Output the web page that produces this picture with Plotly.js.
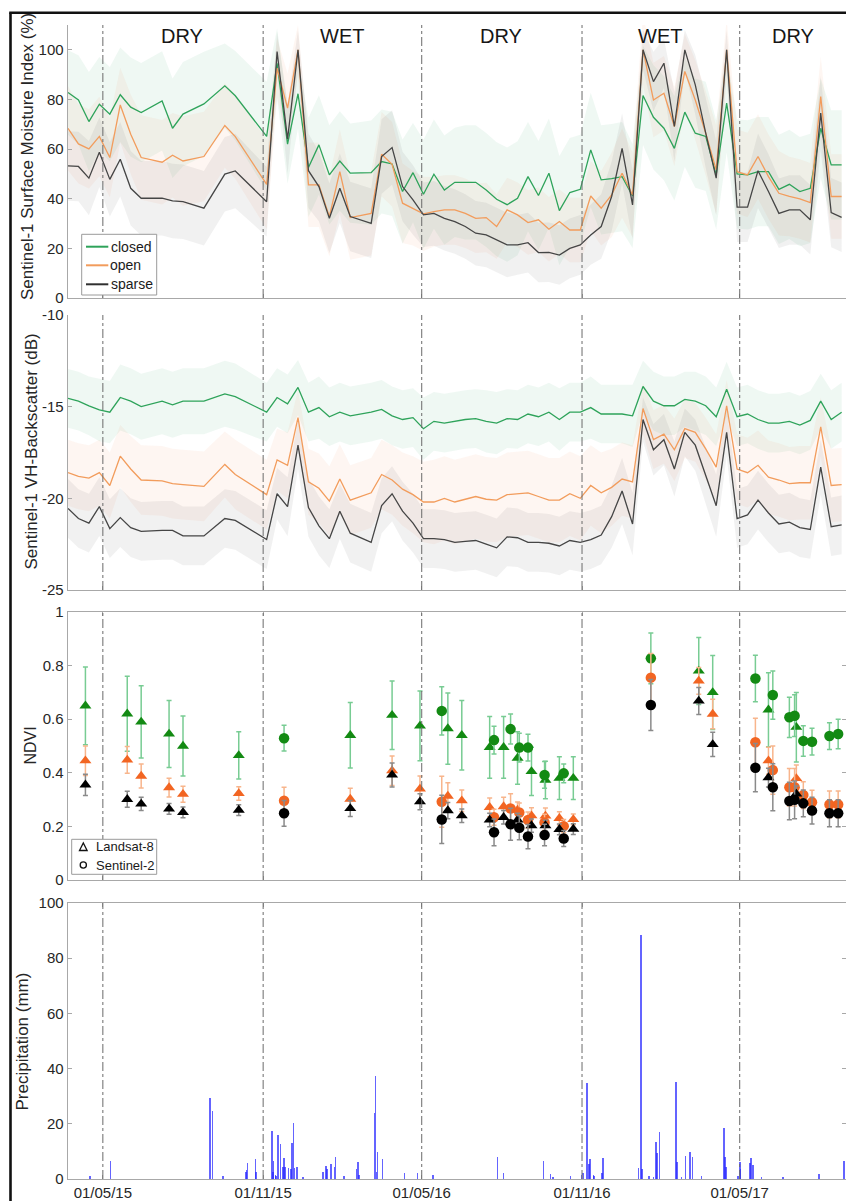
<!DOCTYPE html>
<html>
<head>
<meta charset="utf-8">
<script src="https://cdn.plot.ly/plotly-3.0.1.min.js"></script>
<style>
  html, body { margin: 0; padding: 0; background: #ffffff; overflow: hidden; }
  #chart { width: 846px; height: 1201px; }
</style>
</head>
<body>
<div id="chart"></div>
<script>
// ---------------- Sentinel-1 acquisition dates ----------------
const s1Dates = [
  '2015-03-22','2015-04-03','2015-04-15','2015-04-27','2015-05-09','2015-05-21','2015-06-02','2015-06-14',
  '2015-07-08','2015-07-20','2015-08-01','2015-08-25','2015-09-18','2015-09-30','2015-11-05','2015-11-17',
  '2015-11-29','2015-12-11','2015-12-23',
  '2016-01-04','2016-01-16','2016-01-28','2016-02-09','2016-03-04','2016-03-16','2016-03-28','2016-04-09',
  '2016-04-21','2016-05-03','2016-05-15','2016-05-27','2016-06-08','2016-06-20','2016-07-02','2016-07-14',
  '2016-07-26','2016-08-07','2016-08-19','2016-08-31','2016-09-12','2016-09-24','2016-10-06','2016-10-18',
  '2016-10-30','2016-11-11','2016-11-23','2016-12-05','2016-12-17','2016-12-29',
  '2017-01-10','2017-01-22','2017-02-03','2017-02-15','2017-02-27','2017-03-11','2017-03-23','2017-04-04',
  '2017-04-16','2017-04-28','2017-05-10','2017-05-22','2017-06-03','2017-06-15','2017-06-27','2017-07-09',
  '2017-07-21','2017-08-02','2017-08-14','2017-08-26'
];

// Surface Moisture Index (%) - mean per vegetation class
const smiClosed = [
  82.8, 79.8, 71.1, 78.1, 74.1, 81.9, 76.9, 74.7, 79.4, 68.4, 74.1, 78.2, 85.5, 81.5, 65.1, 94.6, 62.0, 82.3, 52.6,
  61.7, 49.6, 55.2, 50.3, 50.5, 55.0, 54.0, 42.9, 50.5, 41.8, 49.9, 43.5, 46.6, 46.6, 46.6, 43.5, 39.8, 37.6, 40.2,
  48.9, 41.3, 50.3, 35.2, 42.5, 43.8, 59.7, 47.6, 48.1, 48.9, 41.1,
  81.6, 72.8, 68.4, 60.3, 74.9, 66.4, 65.1, 49.6, 78.5, 50.0, 49.6, 50.9, 50.9, 43.8, 45.8, 42.9, 44.2, 68.4, 53.6, 53.6
];
const smiOpen = [
  68.4, 62.1, 60.1, 65.1, 56.6, 77.8, 66.0, 56.6, 54.7, 57.5, 55.2, 57.0, 69.5, 65.0, 45.8, 92.6, 76.5, 100.0, 45.6,
  45.6, 32.8, 50.9, 32.4, 34.1, 57.9, 53.9, 38.2, 36.2, 33.9, 34.8, 35.5, 35.5, 34.1, 32.1, 32.4, 28.8, 35.5, 33.5,
  30.4, 31.5, 27.7, 30.8, 27.4, 27.4, 41.1, 36.2, 41.5, 50.3, 41.5,
  100.0, 79.8, 82.5, 69.1, 91.3, 79.8, 66.4, 51.6, 100.0, 50.9, 49.6, 57.0, 48.9, 42.2, 40.9, 39.9, 38.4, 81.2, 40.9, 40.9
];
const smiSparse = [
  53.2, 53.0, 48.3, 58.7, 47.8, 55.9, 44.2, 40.2, 40.2, 39.1, 38.8, 36.2, 49.9, 51.2, 38.8, 99.3, 64.0, 100.0, 51.3,
  44.9, 32.1, 44.2, 32.8, 30.1, 57.0, 60.6, 44.9, 39.5, 33.5, 34.1, 32.1, 30.8, 28.8, 26.1, 25.4, 23.4, 21.4, 21.4,
  22.3, 18.3, 18.4, 17.3, 20.0, 21.4, 25.4, 28.8, 40.9, 60.3, 37.5,
  100.0, 87.2, 94.6, 69.1, 100.0, 85.9, 66.4, 48.3, 100.0, 36.6, 36.6, 51.3, 42.9, 34.1, 35.5, 35.5, 31.5, 74.5, 34.4, 32.5
];
// Spread (1 std) of SMI per class
const smiClosedSd = [
  17, 18, 20, 19, 19, 19, 20, 20, 20, 20, 21, 21, 17, 18, 22, 14, 16, 14, 20,
  20, 20, 20, 20, 21, 21, 21, 21, 20, 22, 22, 22, 22, 23, 23, 23, 23, 23, 23, 22, 22, 22, 22, 22, 22, 23, 22, 22, 22, 21,
  20, 21, 21, 21, 22, 22, 22, 22, 20, 22, 22, 22, 22, 22, 22, 22, 22, 20, 22, 22
];
const smiOpenSd = [
  17, 16, 16, 16, 16, 15, 16, 17, 17, 17, 18, 18, 17, 17, 18, 12, 14, 10, 17,
  17, 16, 17, 17, 17, 17, 17, 16, 15, 15, 14, 14, 14, 14, 14, 14, 13, 13, 13, 13, 13, 13, 13, 13, 13, 14, 15, 17, 18, 17,
  14, 15, 15, 16, 15, 16, 17, 18, 12, 17, 17, 17, 17, 17, 16, 16, 16, 16, 17, 17
];
const smiSparseSd = [
  14, 14, 15, 14, 15, 15, 15, 15, 15, 15, 15, 15, 15, 15, 14, 8, 14, 8, 15,
  14, 14, 14, 14, 14, 15, 15, 14, 14, 13, 13, 13, 13, 13, 13, 13, 13, 13, 12, 12, 12, 12, 12, 12, 12, 12, 13, 14, 14, 14,
  8, 12, 10, 14, 8, 12, 14, 15, 8, 14, 14, 15, 15, 14, 14, 14, 14, 15, 14, 14
];

// VH backscatter (dB) - mean per vegetation class
const vhClosed = [
  -14.55, -14.7, -14.96, -15.18, -15.3, -14.5, -14.7, -15.0, -14.7, -14.9, -14.7, -14.7, -14.3, -14.45, -15.3, -14.5, -14.85, -13.95, -15.3,
  -15.05, -15.55, -15.3, -15.5, -15.3, -15.15, -15.5, -15.7, -15.6, -16.2, -15.8, -15.9, -15.8, -15.7, -15.65, -15.8, -15.9, -15.65, -15.7,
  -15.4, -15.55, -15.3, -15.7, -15.3, -15.3, -15.05, -15.4, -15.4, -15.4, -15.5,
  -13.9, -14.7, -14.95, -14.95, -14.6, -14.7, -14.95, -15.55, -14.05, -15.55, -15.4, -15.7, -15.9, -15.9, -15.8, -16.0, -15.75, -14.7, -15.7, -15.3
];
const vhOpen = [
  -18.6, -18.8, -18.9, -18.6, -19.3, -17.7, -18.4, -19.0, -19.05, -19.2, -19.25, -19.35, -18.15, -18.7, -19.8, -17.9, -18.2, -15.6, -19.1,
  -19.45, -20.15, -18.95, -20.1, -19.7, -18.7, -19.0, -19.5, -19.8, -20.2, -20.2, -20.0, -20.2, -20.05, -19.9, -20.05, -20.1, -19.8, -19.75,
  -19.7, -19.9, -20.1, -20.1, -19.75, -20.0, -19.3, -19.7, -19.4, -18.95, -19.1,
  -15.1, -16.8, -16.5, -17.35, -16.2, -16.4, -17.3, -18.3, -14.95, -18.4, -18.6, -18.2, -18.85, -19.0, -19.2, -19.15, -19.15, -16.1, -19.3, -19.25
];
const vhSparse = [
  -20.55, -21.1, -21.35, -20.45, -21.65, -21.05, -21.6, -21.8, -21.75, -21.75, -22.05, -22.05, -21.1, -21.2, -22.25, -19.75, -20.45, -17.1, -20.5,
  -21.5, -22.2, -20.7, -21.9, -22.4, -20.4, -19.75, -20.7, -21.35, -22.2, -22.2, -22.25, -22.4, -22.35, -22.3, -22.5, -22.7, -22.1, -22.15,
  -22.4, -22.4, -22.45, -22.6, -22.3, -22.4, -22.25, -22.0, -21.0, -19.6, -21.4,
  -15.7, -17.35, -16.8, -18.4, -16.4, -17.1, -18.75, -20.4, -16.4, -21.1, -20.9, -20.1, -20.8, -21.4, -21.3, -21.6, -21.7, -18.3, -21.55, -21.45
];
const vhClosedSd = [
  1.6, 1.6, 1.6, 1.7, 1.7, 1.8, 1.8, 1.8, 1.8, 1.8, 1.8, 1.8, 1.8, 1.8, 1.6, 1.6, 1.6, 1.5, 1.6,
  1.7, 1.6, 1.6, 1.6, 1.6, 1.6, 1.6, 1.6, 1.6, 1.7, 1.6, 1.6, 1.6, 1.6, 1.6, 1.7, 1.7, 1.6, 1.6, 1.6, 1.6, 1.6, 1.7, 1.6, 1.6, 1.7, 1.6, 1.6, 1.6, 1.7,
  1.4, 1.6, 1.6, 1.6, 1.5, 1.6, 1.6, 1.6, 1.5, 1.6, 1.6, 1.6, 1.6, 1.6, 1.6, 1.6, 1.6, 1.5, 1.6, 1.6
];
const vhOpenSd = [
  1.8, 1.8, 1.8, 1.8, 1.8, 1.7, 1.8, 1.9, 1.9, 1.9, 1.9, 1.9, 1.8, 1.9, 1.9, 1.7, 1.8, 1.5, 1.8,
  1.9, 1.9, 1.9, 1.9, 1.9, 1.9, 1.9, 2.0, 2.1, 2.2, 2.3, 2.3, 2.3, 2.3, 2.3, 2.3, 2.3, 2.3, 2.3, 2.3, 2.3, 2.3, 2.3, 2.3, 2.3, 2.2, 2.2, 2.1, 2.0, 2.0,
  1.4, 1.6, 1.6, 1.7, 1.6, 1.6, 1.7, 1.8, 1.4, 1.9, 1.9, 1.9, 2.0, 2.0, 2.0, 2.0, 2.0, 1.6, 2.0, 2.0
];
const vhSparseSd = [
  1.6, 1.6, 1.6, 1.6, 1.6, 1.6, 1.6, 1.6, 1.6, 1.6, 1.6, 1.6, 1.6, 1.6, 1.6, 1.4, 1.6, 1.3, 1.6,
  1.6, 1.6, 1.5, 1.6, 1.6, 1.5, 1.5, 1.6, 1.6, 1.6, 1.6, 1.6, 1.6, 1.6, 1.6, 1.6, 1.6, 1.6, 1.6, 1.6, 1.6, 1.6, 1.6, 1.6, 1.6, 1.6, 1.6, 1.7, 1.8, 1.7,
  1.2, 1.4, 1.4, 1.5, 1.3, 1.4, 1.5, 1.7, 1.3, 1.6, 1.6, 1.6, 1.6, 1.6, 1.6, 1.6, 1.6, 1.5, 1.6, 1.6
];

// ---------------- NDVI: Landsat-8 ----------------
const l8Dates = [
  '2015-04-11','2015-05-29','2015-06-14','2015-07-16','2015-08-01','2015-10-04','2016-02-09','2016-03-28',
  '2016-04-29','2016-05-31','2016-06-16','2016-07-18','2016-08-03','2016-08-19','2016-09-04','2016-09-20',
  '2016-10-06','2016-10-22','2017-03-15','2017-03-31','2017-06-03','2017-07-05'
];
const l8Closed    = [0.65, 0.62, 0.59, 0.545, 0.50, 0.465, 0.54, 0.615, 0.575, 0.565, 0.54, 0.495, 0.495, 0.455, 0.405, 0.373, 0.38, 0.38, 0.78, 0.70, 0.635, 0.57];
const l8ClosedErr = [0.145, 0.14, 0.135, 0.125, 0.112, 0.088, 0.122, 0.128, 0.13, 0.133, 0.13, 0.115, 0.115, 0.098, 0.09, 0.07, 0.08, 0.08, 0.125, 0.138, 0.138, 0.13];
const l8Open      = [0.445, 0.448, 0.388, 0.345, 0.32, 0.323, 0.302, 0.408, 0.34, 0.313, 0.296, 0.271, 0.274, 0.261, 0.24, 0.239, 0.23, 0.226, 0.743, 0.619, 0.445, 0.379];
const l8OpenErr   = [0.055, 0.05, 0.045, 0.035, 0.03, 0.025, 0.04, 0.055, 0.048, 0.05, 0.04, 0.035, 0.035, 0.03, 0.03, 0.03, 0.025, 0.02, 0.05, 0.055, 0.05, 0.05];
const l8Sparse    = [0.355, 0.301, 0.284, 0.265, 0.252, 0.261, 0.267, 0.392, 0.292, 0.259, 0.24, 0.224, 0.234, 0.224, 0.203, 0.203, 0.189, 0.19, 0.668, 0.506, 0.382, 0.321];
const l8SparseErr = [0.04, 0.03, 0.025, 0.02, 0.02, 0.02, 0.03, 0.045, 0.03, 0.03, 0.025, 0.025, 0.025, 0.025, 0.025, 0.02, 0.02, 0.02, 0.05, 0.045, 0.035, 0.03];

// ---------------- NDVI: Sentinel-2 ----------------
const s2Dates = [
  '2015-11-25','2016-05-24','2016-07-23','2016-08-11','2016-08-21','2016-08-31','2016-09-19','2016-10-11',
  '2017-01-19','2017-05-19','2017-06-08','2017-06-27','2017-07-03','2017-07-13','2017-07-23','2017-08-12','2017-08-22'
];
const s2Closed    = [0.529, 0.631, 0.522, 0.563, 0.494, 0.494, 0.392, 0.398, 0.827, 0.752, 0.69, 0.607, 0.613, 0.519, 0.516, 0.537, 0.545];
const s2ClosedErr = [0.048, 0.09, 0.052, 0.056, 0.054, 0.05, 0.05, 0.035, 0.095, 0.087, 0.09, 0.075, 0.078, 0.057, 0.05, 0.05, 0.055];
const s2Open      = [0.296, 0.292, 0.234, 0.267, 0.252, 0.224, 0.215, 0.201, 0.755, 0.514, 0.41, 0.346, 0.346, 0.317, 0.29, 0.282, 0.282];
const s2OpenErr   = [0.05, 0.095, 0.03, 0.055, 0.035, 0.03, 0.03, 0.025, 0.09, 0.09, 0.09, 0.07, 0.07, 0.05, 0.045, 0.05, 0.05];
const s2Sparse    = [0.249, 0.226, 0.178, 0.208, 0.195, 0.162, 0.168, 0.155, 0.653, 0.419, 0.346, 0.295, 0.299, 0.286, 0.259, 0.249, 0.249];
const s2SparseErr = [0.048, 0.09, 0.05, 0.06, 0.045, 0.045, 0.04, 0.03, 0.095, 0.09, 0.088, 0.07, 0.07, 0.05, 0.05, 0.05, 0.05];

// ---------------- Daily precipitation (mm) ----------------
const rainDates = [
  '2015-04-16','2015-05-10','2015-09-01','2015-09-04','2015-09-16','2015-10-12','2015-10-13','2015-10-14','2015-10-23','2015-10-24',
  '2015-11-11','2015-11-12','2015-11-13','2015-11-15','2015-11-16','2015-11-18','2015-11-21','2015-11-24','2015-11-25','2015-11-26',
  '2015-11-30','2015-12-03','2015-12-04','2015-12-06','2015-12-07','2015-12-10','2015-12-17',
  '2016-01-09','2016-01-12','2016-01-13','2016-01-18','2016-01-22','2016-01-23','2016-02-02','2016-02-16','2016-02-18','2016-02-19',
  '2016-03-08','2016-03-09','2016-03-10','2016-03-11','2016-03-17','2016-04-11','2016-04-26','2016-05-14','2016-07-27','2016-08-03',
  '2016-09-18','2016-09-26','2016-09-29','2016-10-19','2016-11-01','2016-11-02','2016-11-07','2016-11-09','2016-11-10','2016-11-14',
  '2016-11-15','2016-11-24','2016-11-25',
  '2017-01-05','2017-01-08','2017-01-09','2017-01-17','2017-01-22','2017-01-25','2017-01-26','2017-01-29','2017-02-17','2017-02-18',
  '2017-02-23','2017-02-28','2017-03-05','2017-03-08','2017-03-18','2017-04-13','2017-04-14','2017-04-15','2017-04-29','2017-05-01',
  '2017-05-02','2017-05-13','2017-05-14','2017-05-16','2017-05-26','2017-06-20','2017-07-31','2017-08-29'
];
const rainMm = [
  1.0, 6.5, 29.5, 24.5, 1.2, 2.7, 3.3, 5.7, 7.2, 2.5,
  17.4, 2.5, 6.5, 1.5, 1.0, 15.9, 12.7, 4.5, 7.5, 4.5,
  3.9, 3.5, 12.9, 20.2, 4.0, 4.5, 0.8,
  2.7, 4.8, 3.5, 5.3, 4.5, 8.1, 1.1, 3.6, 6.3, 1.5,
  24.0, 37.4, 2.5, 9.9, 7.2, 2.3, 2.3, 1.3, 8.1, 2.0,
  6.6, 1.7, 0.8, 1.1, 1.5, 2.0, 34.9, 5.5, 7.1, 1.5,
  1.0, 2.3, 7.7,
  4.1, 88.4, 3.5, 1.0, 0.6, 13.5, 9.3, 16.9, 35.3, 6.3,
  0.7, 8.5, 9.9, 8.1, 1.1, 18.6, 8.1, 4.5, 1.1, 6.3,
  3.5, 5.7, 7.5, 5.0, 0.6, 0.6, 1.8, 6.5
];

// ---------------- Season boundaries and labels ----------------
const seasonBounds = ['2015-05-01', '2015-11-01', '2016-05-01', '2016-11-01', '2017-05-01'];
const seasonTickText = ['01/05/15', '01/11/15', '01/05/16', '01/11/16', '01/05/17'];
const seasonNames = ['DRY', 'WET', 'DRY', 'WET', 'DRY'];
const seasonMid = ['2015-07-31', '2016-01-31', '2016-07-31', '2017-01-30', '2017-07-01'];

// ---------------- Styling ----------------
const FONT = 'Liberation Sans, Arial, Helvetica, sans-serif';
const TXT = '#262626';
const AXC = '#a8a8a8';
const W = 846, H = 1201;
const px = v => v / W;          // pixel column -> paper x
const py = v => 1 - v / H;      // pixel row    -> paper y
const X_RANGE = ['2015-03-22', '2017-08-31'];

const cls = {
  closed: { line: '#2ea35a', band: 'rgba(46,160,90,0.075)',  mark: '#138a13', bar: '#78cc93' },
  open:   { line: '#f29c5c', band: 'rgba(240,140,90,0.08)',  mark: '#f26522', bar: '#f8b58c' },
  sparse: { line: '#454545', band: 'rgba(90,90,90,0.085)',   mark: '#000000', bar: '#8a8a8a' }
};

function band(x, mean, sd, color, xa, ya) {
  const up = mean.map((m, i) => m + sd[i]);
  const lo = mean.map((m, i) => m - sd[i]);
  return {
    type: 'scatter', mode: 'lines', x: x.concat(x.slice().reverse()),
    y: up.concat(lo.slice().reverse()), fill: 'toself', fillcolor: color,
    line: { width: 0 }, hoverinfo: 'skip', showlegend: false, xaxis: xa, yaxis: ya
  };
}
function line(x, y, color, xa, ya) {
  return { type: 'scatter', mode: 'lines', x: x, y: y, line: { color: color, width: 1.3 },
           showlegend: false, xaxis: xa, yaxis: ya };
}
function pts(x, y, err, c, symbol) {
  return {
    type: 'scatter', mode: 'markers', x: x, y: y, xaxis: 'x3', yaxis: 'y3', showlegend: false,
    marker: { symbol: symbol, size: 10.5, color: c.mark, line: { width: 0 } },
    error_y: { type: 'data', array: err, visible: true, color: c.bar, thickness: 1.5, width: 2.5 }
  };
}

const traces = [
  // Panel 1: soil moisture index
  band(s1Dates, smiClosed, smiClosedSd, cls.closed.band, 'x', 'y'),
  band(s1Dates, smiOpen, smiOpenSd, cls.open.band, 'x', 'y'),
  band(s1Dates, smiSparse, smiSparseSd, cls.sparse.band, 'x', 'y'),
  line(s1Dates, smiClosed, cls.closed.line, 'x', 'y'),
  line(s1Dates, smiOpen, cls.open.line, 'x', 'y'),
  line(s1Dates, smiSparse, cls.sparse.line, 'x', 'y'),
  // Panel 2: VH backscatter
  band(s1Dates, vhClosed, vhClosedSd, cls.closed.band, 'x2', 'y2'),
  band(s1Dates, vhOpen, vhOpenSd, cls.open.band, 'x2', 'y2'),
  band(s1Dates, vhSparse, vhSparseSd, cls.sparse.band, 'x2', 'y2'),
  line(s1Dates, vhClosed, cls.closed.line, 'x2', 'y2'),
  line(s1Dates, vhOpen, cls.open.line, 'x2', 'y2'),
  line(s1Dates, vhSparse, cls.sparse.line, 'x2', 'y2'),
  // Panel 3: NDVI
  pts(l8Dates, l8Closed, l8ClosedErr, cls.closed, 'triangle-up'),
  pts(s2Dates, s2Closed, s2ClosedErr, cls.closed, 'circle'),
  pts(l8Dates, l8Open, l8OpenErr, cls.open, 'triangle-up'),
  pts(s2Dates, s2Open, s2OpenErr, cls.open, 'circle'),
  pts(l8Dates, l8Sparse, l8SparseErr, cls.sparse, 'triangle-up'),
  pts(s2Dates, s2Sparse, s2SparseErr, cls.sparse, 'circle'),
  // Panel 4: precipitation
  {
    type: 'bar', x: rainDates, y: rainMm, width: 1.8 * 86400000, xaxis: 'x4', yaxis: 'y4',
    marker: { color: 'rgba(40,40,255,0.72)', line: { width: 0 } }, showlegend: false
  }
];

// Axes
const xDomain = [px(68), 1];
function xAxis(anchor, showLabels, mirror) {
  return {
    domain: xDomain, anchor: anchor, type: 'date', range: X_RANGE, automargin: false,
    tickmode: 'array', tickvals: seasonBounds, ticktext: seasonTickText, showticklabels: showLabels,
    ticks: 'inside', ticklen: 4, tickcolor: AXC, showgrid: false, zeroline: false,
    showline: true, linecolor: AXC, linewidth: 1.4, mirror: mirror,
    tickfont: { family: FONT, size: 15, color: TXT }
  };
}
function yAxis(anchor, dom, range, vals, text, mirror) {
  return {
    domain: dom, anchor: anchor, range: range, automargin: false,
    tickmode: 'array', tickvals: vals, ticktext: text,
    ticks: 'inside', ticklen: 4, tickcolor: AXC, showgrid: false, zeroline: false,
    showline: true, linecolor: AXC, linewidth: 1.4, mirror: mirror,
    tickfont: { family: FONT, size: 15, color: TXT }
  };
}

const shapes = [];
// season boundaries in every panel
['', '2', '3', '4'].forEach(n => {
  seasonBounds.forEach(d => {
    shapes.push({ type: 'line', xref: 'x' + n, yref: 'y' + n + ' domain', x0: d, x1: d, y0: 0, y1: 1,
                  line: { color: '#6a6a6a', width: 1, dash: 'dashdot' }, layer: 'above' });
  });
});
// figure frame
shapes.push({ type: 'line', xref: 'paper', yref: 'paper', x0: px(10.5), x1: px(10.5), y0: 0, y1: py(12.7),
              line: { color: '#111', width: 2.6 } });
shapes.push({ type: 'line', xref: 'paper', yref: 'paper', x0: px(9.2), x1: 1, y0: py(12.7), y1: py(12.7),
              line: { color: '#111', width: 2.6 } });
// legend box, panel 1
shapes.push({ type: 'rect', xref: 'paper', yref: 'paper', x0: px(81.7), x1: px(156.7), y0: py(295), y1: py(234.3),
              fillcolor: '#ffffff', line: { color: '#9a9a9a', width: 1 }, layer: 'above' });
[[cls.closed.line, 246.7], [cls.open.line, 265.3], ['#303030', 284.3]].forEach(([c, y]) => {
  shapes.push({ type: 'line', xref: 'paper', yref: 'paper', x0: px(86), x1: px(108.3), y0: py(y), y1: py(y),
                line: { color: c, width: 2 }, layer: 'above' });
});
// legend box, panel 3
shapes.push({ type: 'rect', xref: 'paper', yref: 'paper', x0: px(71.7), x1: px(156.7), y0: py(874.3), y1: py(839.3),
              fillcolor: '#ffffff', line: { color: '#9a9a9a', width: 1 }, layer: 'above' });
shapes.push({ type: 'path', xref: 'paper', yref: 'paper',
              path: `M ${px(79.5)} ${py(850.5)} L ${px(87.1)} ${py(850.5)} L ${px(83.3)} ${py(843)} Z`,
              line: { color: '#111', width: 1.3 }, fillcolor: 'rgba(0,0,0,0)', layer: 'above' });
shapes.push({ type: 'circle', xref: 'paper', yref: 'paper', x0: px(80.2), x1: px(86.4), y0: py(868.1), y1: py(861.9),
              line: { color: '#111', width: 1.3 }, layer: 'above' });

const annotations = [];
seasonNames.forEach((s, i) => {
  annotations.push({ xref: 'x', yref: 'paper', x: seasonMid[i], y: py(35.5), text: s, showarrow: false,
                     xanchor: 'center', yanchor: 'middle', font: { family: FONT, size: 20, color: '#161616' } });
});
function ytitle(text, xc, yc, size) {
  annotations.push({ xref: 'paper', yref: 'paper', x: px(xc), y: py(yc), text: text, textangle: -90,
                     showarrow: false, xanchor: 'center', yanchor: 'middle',
                     font: { family: FONT, size: size, color: TXT } });
}
ytitle('Sentinel-1 Surface Moisture Index (%)', 27.5, 156.5, 17);
ytitle('Sentinel-1 VH-Backscatter (dB)', 31, 451.5, 17);
ytitle('NDVI', 29.5, 746, 16);
ytitle('Precipitation (mm)', 21.5, 1042, 17);
function legText(text, x, y, size) {
  annotations.push({ xref: 'paper', yref: 'paper', x: px(x), y: py(y), text: text, showarrow: false,
                     xanchor: 'left', yanchor: 'middle', font: { family: FONT, size: size, color: '#1a1a1a' } });
}
legText('closed', 108.5, 246.7, 14);
legText('open', 108.5, 265.3, 14);
legText('sparse', 108.5, 284.3, 14);
legText('Landsat-8', 93.5, 846.7, 13);
legText('Sentinel-2', 93.5, 865, 13);

const layout = {
  width: W, height: H, margin: { l: 0, r: 0, t: 0, b: 0, pad: 0 },
  paper_bgcolor: '#ffffff', plot_bgcolor: 'rgba(0,0,0,0)', showlegend: false,
  font: { family: FONT, color: TXT },
  bargap: 0,
  xaxis:  xAxis('y', false, false),
  xaxis2: xAxis('y2', false, false),
  xaxis3: xAxis('y3', false, 'ticks'),
  xaxis4: xAxis('y4', true, 'ticks'),
  yaxis:  yAxis('x', [py(298), py(25)], [0, 110], [0, 20, 40, 60, 80, 100], ['0', '20', '40', '60', '80', '100'], false),
  yaxis2: yAxis('x2', [py(590), py(315)], [-25, -10], [-25, -20, -15, -10], ['-25', '-20', '-15', '-10'], false),
  yaxis3: yAxis('x3', [py(880), py(612)], [0, 1], [0, 0.2, 0.4, 0.6, 0.8, 1], ['0', '0.2', '0.4', '0.6', '0.8', '1'], 'ticks'),
  yaxis4: yAxis('x4', [py(1179), py(903)], [0, 100], [0, 20, 40, 60, 80, 100], ['0', '20', '40', '60', '80', '100'], 'ticks'),
  shapes: shapes,
  annotations: annotations
};

Plotly.newPlot('chart', traces, layout, { staticPlot: true, displayModeBar: false });
</script>
</body>
</html>
